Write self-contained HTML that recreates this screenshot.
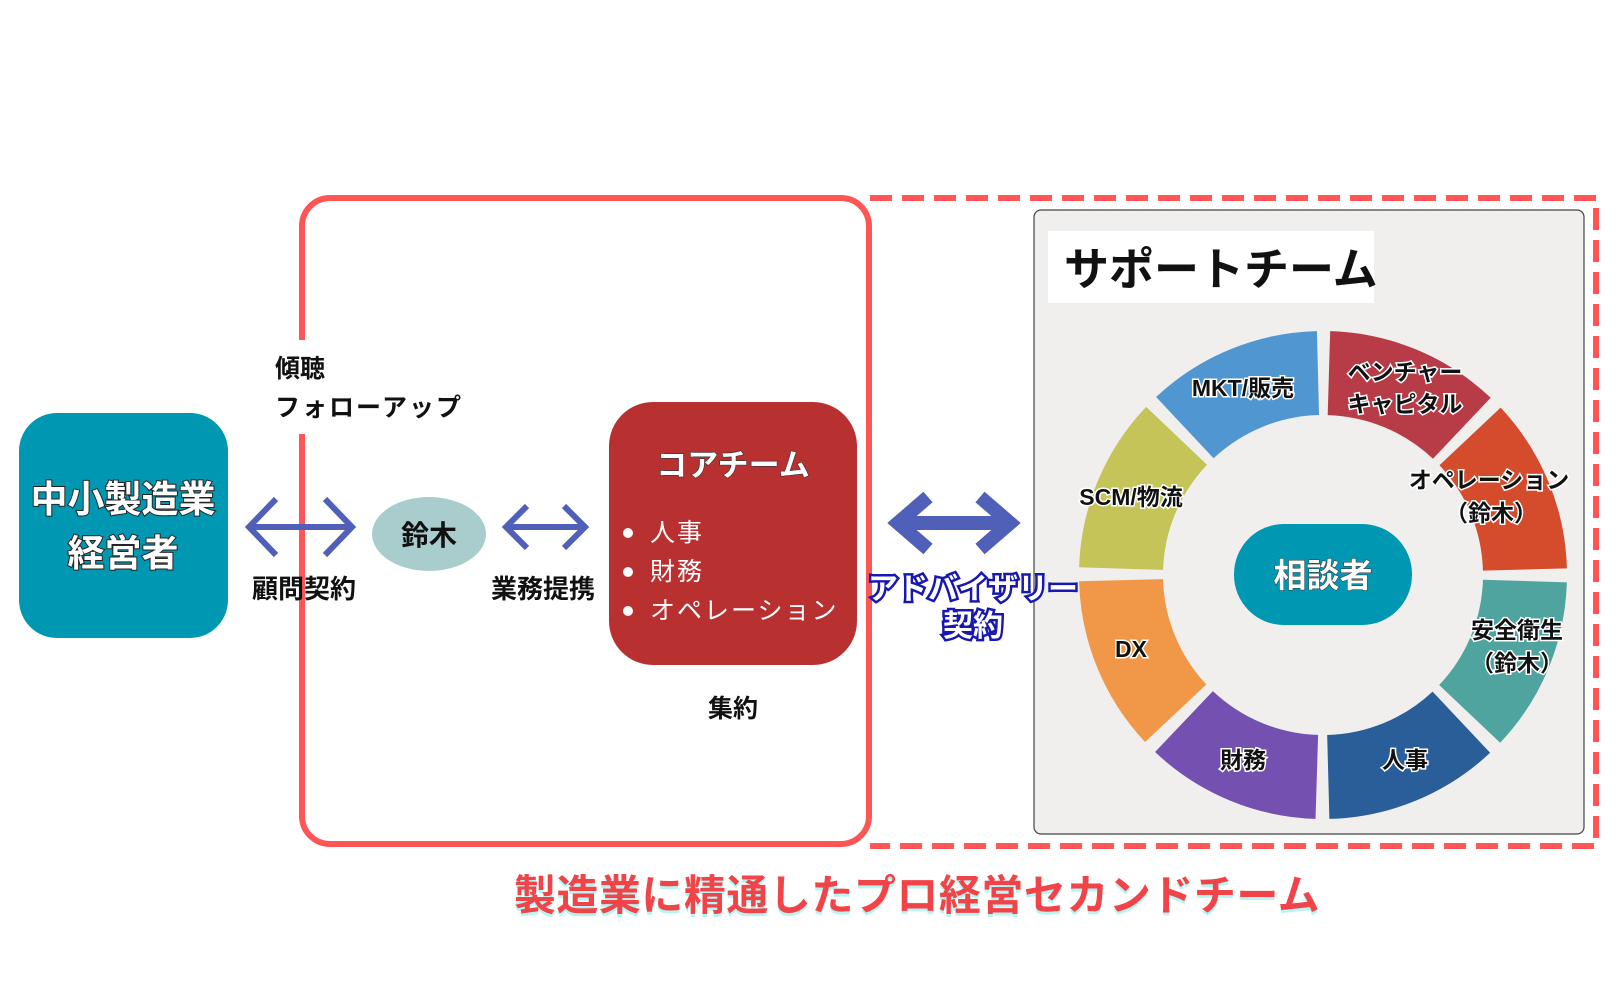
<!DOCTYPE html>
<html><head><meta charset="utf-8"><style>
html,body{margin:0;padding:0;background:#fff;}
svg{display:block;font-family:"Liberation Sans","Noto Sans CJK JP",sans-serif;}
</style></head><body>
<svg width="1620" height="1000" viewBox="0 0 1620 1000" xmlns="http://www.w3.org/2000/svg">
<path d="M870 198 H1596 V846 H870" fill="none" stroke="#ff5555" stroke-width="6" stroke-dasharray="22 10"/>
<rect x="302" y="198" width="567" height="646" rx="28" fill="none" stroke="#ff5555" stroke-width="6"/>
<rect x="295" y="340" width="16" height="94" fill="#fff"/>
<rect x="1034" y="210" width="550" height="624" rx="7" fill="#f0efee" stroke="#444" stroke-width="1.2"/>
<rect x="1048" y="231" width="326" height="72" fill="#fff"/>
<text x="1064" y="285" font-size="45" font-weight="bold" fill="#111" letter-spacing="0">サポートチーム</text>
<g transform="rotate(-90 1323 575)" fill="none" stroke-width="84">
<circle cx="1323" cy="575" r="202" stroke="#b83c48" stroke-dasharray="147 1122.3" stroke-dashoffset="-6"/>
<circle cx="1323" cy="575" r="202" stroke="#d44c2c" stroke-dasharray="147 1122.3" stroke-dashoffset="-164.6"/>
<circle cx="1323" cy="575" r="202" stroke="#4fa4a0" stroke-dasharray="147 1122.3" stroke-dashoffset="-323.3"/>
<circle cx="1323" cy="575" r="202" stroke="#2a5e98" stroke-dasharray="147 1122.3" stroke-dashoffset="-482"/>
<circle cx="1323" cy="575" r="202" stroke="#7450b0" stroke-dasharray="147 1122.3" stroke-dashoffset="-640.6"/>
<circle cx="1323" cy="575" r="202" stroke="#f09848" stroke-dasharray="147 1122.3" stroke-dashoffset="-799.3"/>
<circle cx="1323" cy="575" r="202" stroke="#c4c458" stroke-dasharray="147 1122.3" stroke-dashoffset="-958"/>
<circle cx="1323" cy="575" r="202" stroke="#5096d0" stroke-dasharray="147 1122.3" stroke-dashoffset="-1116.6"/>
</g>
<rect x="1234" y="524" width="178" height="101" rx="50" fill="#0097b2"/>
<text x="1323" y="587" font-size="33" font-weight="bold" fill="#fff" text-anchor="middle" stroke="#333" stroke-width="1" paint-order="stroke">相談者</text>
<g font-size="23" font-weight="bold" fill="#111" text-anchor="middle" stroke="#fff" stroke-width="3" paint-order="stroke">
<text x="1243" y="396">MKT/販売</text>
<text x="1405" y="380">ベンチャー</text>
<text x="1405" y="412">キャピタル</text>
<text x="1489" y="488">オペレーション</text>
<text x="1491" y="521">（鈴木）</text>
<text x="1517" y="638">安全衛生</text>
<text x="1517" y="671">（鈴木）</text>
<text x="1405" y="768">人事</text>
<text x="1243" y="768">財務</text>
<text x="1131" y="657">DX</text>
<text x="1131" y="505">SCM/物流</text>
</g>
<rect x="19" y="413" width="209" height="225" rx="38" fill="#0097b2"/>
<g font-size="37" font-weight="bold" fill="#fff" text-anchor="middle" stroke="#222" stroke-width="2" paint-order="stroke">
<text x="123" y="512">中小製造業</text>
<text x="123" y="566">経営者</text>
</g>
<g font-size="25" font-weight="bold" fill="#111">
<text x="275" y="377">傾聴</text>
<text x="275" y="416" letter-spacing="2">フォローアップ</text>
<text x="304" y="598" text-anchor="middle" font-size="26">顧問契約</text>
<text x="543" y="598" text-anchor="middle" font-size="26">業務提携</text>
<text x="733" y="717" text-anchor="middle">集約</text>
</g>
<g fill="none" stroke="#5060b8" stroke-width="6">
<line x1="250" y1="527" x2="351" y2="527"/>
<polyline points="276,499 249,527 276,555"/>
<polyline points="325,499 352,527 325,555"/>
<line x1="506" y1="527" x2="585" y2="527"/>
<polyline points="527,506 506,527 527,548"/>
<polyline points="564,506 585,527 564,548"/>
</g>
<ellipse cx="429" cy="534" rx="57" ry="37" fill="#a9cccc"/>
<text x="429" y="545" font-size="28" font-weight="bold" fill="#111" text-anchor="middle">鈴木</text>
<rect x="609" y="402" width="248" height="263" rx="44" fill="#b83030"/>
<text x="733" y="476" font-size="31" font-weight="bold" fill="#fff" text-anchor="middle" stroke="#333" stroke-width="1.2" paint-order="stroke">コアチーム</text>
<g fill="#fff" font-size="25" letter-spacing="2">
<circle cx="628" cy="533" r="5"/><text x="650" y="541">人事</text>
<circle cx="628" cy="572" r="5"/><text x="650" y="580">財務</text>
<circle cx="628" cy="611" r="5"/><text x="650" y="619">オペレーション</text>
</g>
<g fill="none" stroke="#5060b8" stroke-width="14">
<line x1="900" y1="523" x2="1008" y2="523"/>
<polyline points="928,497 898,523 928,549"/>
<polyline points="980,497 1010,523 980,549"/>
</g>
<g font-size="30" font-weight="bold" fill="#fff" stroke="#1818b0" stroke-width="5" paint-order="stroke" text-anchor="middle">
<text x="973" y="599">アドバイザリー</text>
<text x="973" y="636">契約</text>
</g>
<g font-size="42" font-weight="bold" text-anchor="middle" letter-spacing="0.5">
<text x="917" y="913" fill="#b8f4f4">製造業に精通したプロ経営セカンドチーム</text>
<text x="917" y="910" fill="#f04448">製造業に精通したプロ経営セカンドチーム</text>
</g>
</svg>
</body></html>
